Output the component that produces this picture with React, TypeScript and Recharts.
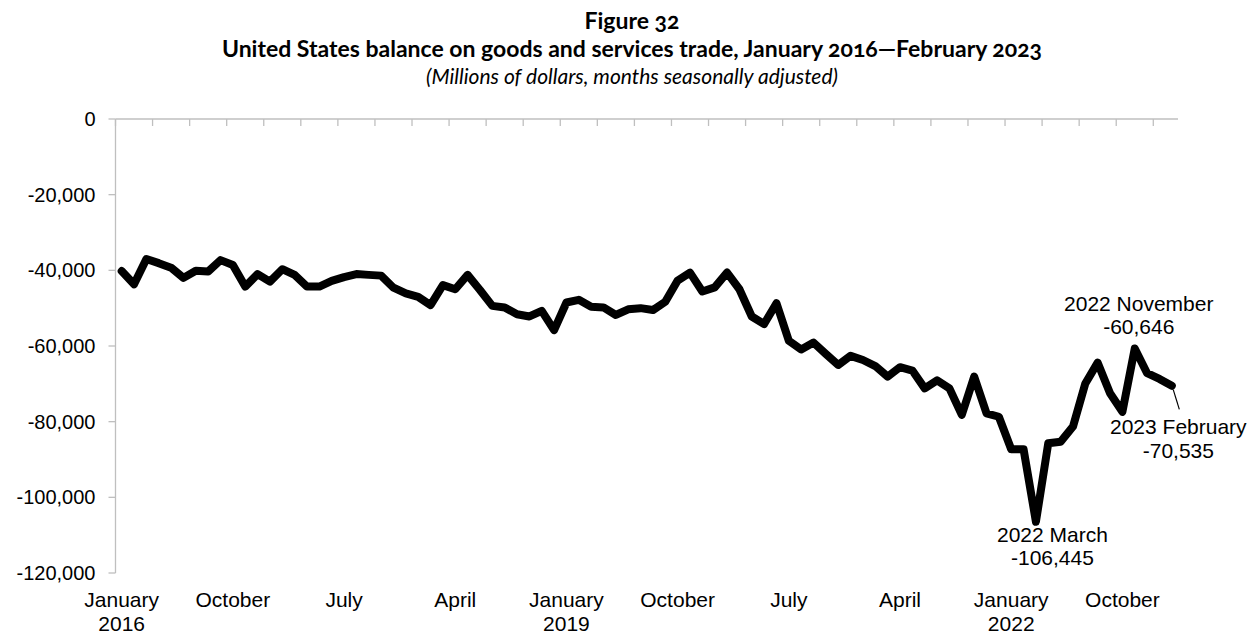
import { LabelList, Line, LineChart, XAxis, YAxis } from 'recharts';

// US goods & services balance, millions of dollars, Jan 2016 – Feb 2023 (monthly)
const balance2016 = [-40200, -43700, -37000, -38100, -39300, -42000, -40100, -40300, -37300, -38600, -44300, -41000];
const balance2017 = [-43000, -39700, -41200, -44300, -44300, -42800, -41800, -41000, -41200, -41400, -44600, -46100];
const balance2018 = [-47000, -49200, -43900, -45000, -41200, -45200, -49400, -49800, -51600, -52200, -50700, -55800];
const balance2019 = [-48500, -47800, -49600, -49800, -51800, -50300, -50000, -50500, -48300, -42700, -40600, -45600];
const balance2020 = [-44500, -40600, -45000, -52200, -54200, -48700, -58600, -60900, -59100, -62100, -65000, -62600];
const balance2021 = [-63700, -65300, -68100, -65600, -66500, -71200, -69100, -71200, -78200, -68100, -77800, -78700];
const balance2022 = [-87300, -87300, -106445, -85700, -85300, -81300, -69900, -64400, -72500, -77400, -60646, -67200];
const balance2023 = [-68700, -70535];

const balance = [
  ...balance2016, ...balance2017, ...balance2018, ...balance2019,
  ...balance2020, ...balance2021, ...balance2022, ...balance2023,
];

// bottom labels, every 9 months
const labelIndex = [0, 9, 18, 27, 36, 45, 54, 63, 72, 81];
const labelMonth = ['January', 'October', 'July', 'April', 'January', 'October', 'July', 'April', 'January', 'October'];
const labelYear = ['2016', '', '', '', '2019', '', '', '', '2022', ''];

const yTicks = [-120000, -100000, -80000, -60000, -40000, -20000, 0];

// annotated points
const calloutIndex = [74, 82, 85];
const calloutName = ['2022 March', '2022 November', '2023 February'];

const data = balance.map((value, i) => ({ i, value }));
const last = balance.length - 1;
// minor tick marks on the top axis every quarter, between categories
const quarterTicks = Array.from({ length: 29 }, (_, k) => k * 3 - 0.5);

const AXIS_FONT = '"Liberation Sans", Arial, sans-serif';
const TITLE_FONT = 'Lato, "Open Sans", sans-serif';
const GREY = '#bfbfbf';

const fmt = (v: number) => v.toLocaleString('en-US');

function MonthTick({ x, y, payload }: any) {
  const k = labelIndex.indexOf(payload.value);
  if (k < 0) return <g />;
  return (
    <text x={x} y={y} textAnchor="middle" fontFamily={AXIS_FONT} fontSize={21} fill="#000">
      <tspan x={x} dy={26}>{labelMonth[k]}</tspan>
      {labelYear[k] && <tspan x={x} dy={23.5}>{labelYear[k]}</tspan>}
    </text>
  );
}

// offsets of each callout text from its point: [dx, dy line 1, dy line 2]
const calloutOffset: Record<number, [number, number, number]> = {
  74: [16.5, 20, 43.5],
  82: [4, -37.5, -14],
  85: [6.5, 48, 72.5],
};

function Callout(props: any) {
  const { x, y, index } = props;
  const k = calloutIndex.indexOf(index);
  if (k < 0) return null;
  const [dx, d1, d2] = calloutOffset[index];
  return (
    <g>
      {index === last && (
        <line x1={x + 1.5} y1={y + 4} x2={x + 7.5} y2={y + 23.5} stroke="#000" strokeWidth={1.2} />
      )}
      <text textAnchor="middle" fontFamily={AXIS_FONT} fontSize={21} fill="#000">
        <tspan x={x + dx} y={y + d1}>{calloutName[k]}</tspan>
        <tspan x={x + dx} y={y + d2}>{fmt(balance[index])}</tspan>
      </text>
    </g>
  );
}

const titleLine = (top: number, extra: React.CSSProperties): React.CSSProperties => ({
  position: 'absolute',
  left: 3,
  top,
  width: 1258,
  textAlign: 'center',
  fontFamily: TITLE_FONT,
  color: '#000',
  fontVariantNumeric: 'oldstyle-nums',
  whiteSpace: 'nowrap',
  zIndex: 1,
  ...extra,
});

export default function App() {
  return (
    <div style={{ position: 'absolute', left: 0, top: 0, width: 1258, height: 633, background: '#fff' }}>
      <div style={titleLine(8.1, { fontSize: 23, lineHeight: '24px', fontWeight: 700 })}>Figure 32</div>
      <div style={titleLine(36.4, { fontSize: 23, lineHeight: '24px', fontWeight: 700 })}>
        United States balance on goods and services trade, January 2016—February 2023
      </div>
      <div style={titleLine(64, { fontSize: 21, lineHeight: '23px', fontStyle: 'italic' })}>
        (Millions of dollars, months seasonally adjusted)
      </div>
      <LineChart
        width={1258}
        height={633}
        data={data}
        margin={{ top: 119, right: 80, bottom: 0, left: 15.5 }}
        style={{ position: 'absolute', left: 0, top: 0 }}
      >
        <XAxis
          xAxisId="top"
          orientation="top"
          mirror
          type="number"
          dataKey="i"
          domain={[-0.5, last + 0.5]}
          ticks={quarterTicks}
          interval={0}
          height={1}
          axisLine={{ stroke: GREY, strokeWidth: 1.3 }}
          tickLine={{ stroke: GREY, strokeWidth: 1.3 }}
          tickSize={7}
          tick={() => <g />}
        />
        <XAxis
          xAxisId="bottom"
          orientation="bottom"
          type="number"
          dataKey="i"
          domain={[-0.5, last + 0.5]}
          ticks={labelIndex}
          interval={0}
          height={60}
          axisLine={false}
          tickLine={false}
          tickSize={8}
          tickMargin={0}
          tick={<MonthTick />}
        />
        <YAxis
          type="number"
          domain={[-120000, 0]}
          ticks={yTicks}
          interval={0}
          width={100}
          axisLine={{ stroke: GREY, strokeWidth: 1.3 }}
          tickLine={{ stroke: GREY, strokeWidth: 1.3 }}
          tickSize={7}
          tickMargin={13}
          tickFormatter={fmt}
          tick={{ fill: '#000', fontSize: 20, fontFamily: AXIS_FONT }}
        />
        <Line
          xAxisId="bottom"
          type="linear"
          dataKey="value"
          stroke="#000"
          strokeWidth={8}
          strokeLinejoin="round"
          strokeLinecap="round"
          dot={false}
          isAnimationActive={false}
        >
          <LabelList dataKey="value" content={<Callout />} />
        </Line>
      </LineChart>
    </div>
  );
}
